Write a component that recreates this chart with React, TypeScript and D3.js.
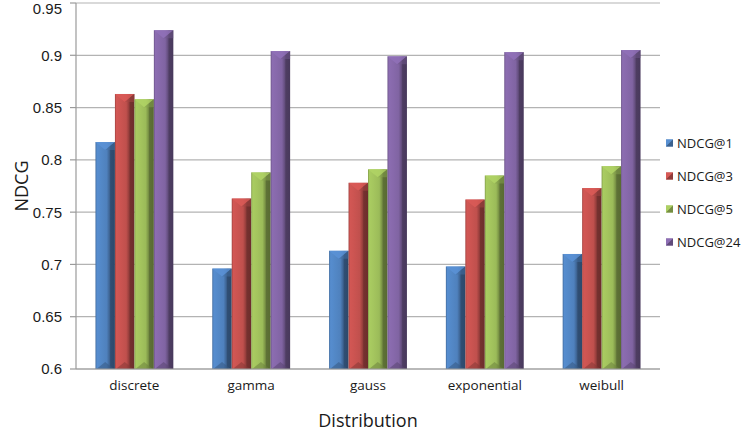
import React from "react";
import * as d3 from "d3";

const categories = ["discrete", "gamma", "gauss", "exponential", "weibull"];
const seriesNames = ["NDCG@1", "NDCG@3", "NDCG@5", "NDCG@24"];
const ndcg1 = [0.817, 0.696, 0.713, 0.698, 0.710];
const ndcg3 = [0.863, 0.763, 0.778, 0.762, 0.773];
const ndcg5 = [0.858, 0.788, 0.791, 0.785, 0.794];
const ndcg24 = [0.924, 0.904, 0.899, 0.903, 0.905];
const yTicks = [0.6, 0.65, 0.7, 0.75, 0.8, 0.85, 0.9, 0.95];
const colors = ["#4F81BD", "#C0504D", "#9BBB59", "#8064A2"];

const seriesValues = [ndcg1, ndcg3, ndcg5, ndcg24];

const W = 750;
const H = 438;
const plotLeft = 76;
const plotRight = 660;
const plotTop = 3;
const plotBottom = 369;
const FONT = "'Open Sans', 'DejaVu Sans', sans-serif";
const TICK_FONT = "'Liberation Sans', Arial, sans-serif";
const TICK_SIZE = 15;

export default function App() {
  const x0 = d3
    .scaleBand<string>()
    .domain(categories)
    .range([plotLeft, plotRight])
    .paddingInner(1 / 3)
    .paddingOuter(1 / 6);
  const x1 = d3
    .scaleBand<string>()
    .domain(seriesNames)
    .range([0, x0.bandwidth()])
    .padding(0);
  const y = d3.scaleLinear().domain([0.6, 0.95]).range([plotBottom, plotTop]);

  // baseline for tick labels: centred on the gridline, kept inside the canvas
  const tickBaseline = (t: number) => Math.max(y(t) + TICK_SIZE * 0.36, TICK_SIZE * 0.91);

  return (
    <svg
      width={W}
      height={H}
      style={{ position: "absolute", left: 0, top: 0, background: "#fff" }}
      fontFamily={FONT}
    >
      <defs>
        {colors.map((c, i) => (
          <linearGradient key={i} id={`bar-grad-${i}`} x1="0" x2="1" y1="0" y2="0">
            <stop offset="0%" stopColor={d3.rgb(c).darker(0.5).formatHex()} />
            <stop offset="8%" stopColor={d3.rgb(c).brighter(0.25).formatHex()} />
            <stop offset="30%" stopColor={d3.rgb(c).brighter(0.15).formatHex()} />
            <stop offset="58%" stopColor={c} />
            <stop offset="72%" stopColor={d3.rgb(c).darker(0.7).formatHex()} />
            <stop offset="78%" stopColor={d3.rgb(c).darker(1.4).formatHex()} />
            <stop offset="100%" stopColor={d3.rgb(c).darker(1.6).formatHex()} />
          </linearGradient>
        ))}
      </defs>

      {/* horizontal gridlines */}
      {yTicks.map((t) => (
        <line
          key={`g${t}`}
          x1={plotLeft}
          x2={plotRight}
          y1={y(t)}
          y2={y(t)}
          stroke="#b3b3b3"
          strokeWidth={1.2}
        />
      ))}

      {/* y axis with ticks and labels */}
      <line x1={plotLeft} x2={plotLeft} y1={plotTop} y2={plotBottom} stroke="#9a9a9a" strokeWidth={1.2} />
      {yTicks.map((t) => (
        <g key={`t${t}`}>
          <line x1={plotLeft - 6} x2={plotLeft} y1={y(t)} y2={y(t)} stroke="#9a9a9a" strokeWidth={1.2} />
          <text
            x={62}
            y={tickBaseline(t)}
            textAnchor="end"
            fontFamily={TICK_FONT}
            fontSize={TICK_SIZE}
            fill="#1a1a1a"
          >
            {d3.format("")(t)}
          </text>
        </g>
      ))}

      {/* bars */}
      {categories.map((cat, ci) => (
        <g key={cat}>
          {seriesNames.map((s, si) => {
            const v = seriesValues[si][ci];
            const bx = (x0(cat) as number) + (x1(s) as number);
            const bw = x1.bandwidth();
            const top = y(v);
            const bottom = y(0.6);
            const cx = bx + bw / 2;
            const c = colors[si];
            return (
              <g key={s}>
                <rect x={bx} y={top} width={bw} height={bottom - top} fill={`url(#bar-grad-${si})`} />
                {/* top bevel */}
                <polygon
                  points={`${bx},${top} ${bx + bw},${top} ${cx},${top + 8}`}
                  fill={d3.rgb(c).brighter(0.35).formatHex()}
                  opacity={0.85}
                />
                <polygon
                  points={`${cx},${top + 8} ${bx + bw},${top} ${bx + bw},${top + 8}`}
                  fill={d3.rgb(c).darker(0.4).formatHex()}
                  opacity={0.5}
                />
                {/* bottom bevel */}
                <polygon
                  points={`${bx + 1},${bottom} ${bx + bw - 1},${bottom} ${cx},${bottom - 7}`}
                  fill={d3.rgb(c).darker(1).formatHex()}
                  opacity={0.55}
                />
              </g>
            );
          })}
          <text
            x={(x0(cat) as number) + x0.bandwidth() / 2}
            y={385}
            dy="0.35em"
            textAnchor="middle"
            fontSize={13.5}
            fill="#1a1a1a"
          >
            {cat}
          </text>
        </g>
      ))}

      {/* x axis */}
      <line x1={plotLeft} x2={plotRight} y1={plotBottom} y2={plotBottom} stroke="#9a9a9a" strokeWidth={1.2} />

      {/* axis titles */}
      <text x={368} y={421} dy="0.35em" textAnchor="middle" fontSize={18} fill="#1a1a1a">
        Distribution
      </text>
      <text
        transform={`translate(22,186) rotate(-90)`}
        dy="0.35em"
        textAnchor="middle"
        fontSize={18}
        fill="#1a1a1a"
      >
        NDCG
      </text>

      {/* legend */}
      {seriesNames.map((s, i) => {
        const ly = 143.5 + i * 33;
        return (
          <g key={s}>
            <rect x={666} y={ly - 4} width={7} height={7} fill={colors[i]} />
            <polygon
              points={`${666},${ly - 4} ${673},${ly - 4} ${666},${ly + 3}`}
              fill={d3.rgb(colors[i]).brighter(0.3).formatHex()}
            />
            <polygon
              points={`${673},${ly - 4} ${673},${ly + 3} ${666},${ly + 3}`}
              fill={d3.rgb(colors[i]).darker(0.8).formatHex()}
            />
            <text x={677} y={ly} dy="0.35em" fontSize={13} fill="#1a1a1a">
              {s}
            </text>
          </g>
        );
      })}
    </svg>
  );
}
